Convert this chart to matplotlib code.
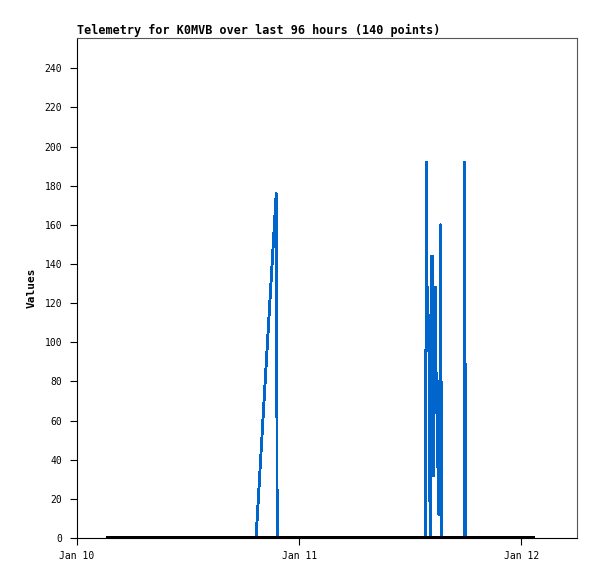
import matplotlib
matplotlib.use("Agg")
import matplotlib.pyplot as plt
import matplotlib.dates as mdates
import pandas as pd

# Blue telemetry channel (timestamps, values)
blue_times = [
    "2024-01-10 03:18", "2024-01-10 19:20", "2024-01-10 21:31", "2024-01-10 21:35",
    "2024-01-10 21:37",
    "2024-01-11 13:36", "2024-01-11 13:37", "2024-01-11 13:42", "2024-01-11 13:45",
    "2024-01-11 13:48", "2024-01-11 13:52", "2024-01-11 13:55", "2024-01-11 14:03",
    "2024-01-11 14:08", "2024-01-11 14:12", "2024-01-11 14:16", "2024-01-11 14:25",
    "2024-01-11 14:27", "2024-01-11 14:30", "2024-01-11 14:34", "2024-01-11 14:39",
    "2024-01-11 14:43", "2024-01-11 14:47", "2024-01-11 14:51", "2024-01-11 14:54",
    "2024-01-11 14:58", "2024-01-11 15:02", "2024-01-11 15:05", "2024-01-11 15:08",
    "2024-01-11 15:13", "2024-01-11 15:17", "2024-01-11 15:20", "2024-01-11 15:23",
    "2024-01-11 17:50", "2024-01-11 17:51", "2024-01-11 17:55", "2024-01-11 17:56",
    "2024-01-12 01:14",
]
blue_values = [
    0, 0, 176, 88,
    0,
    0, 96, 96, 192,
    96, 128, 96, 96,
    0, 96, 144, 144,
    80, 32, 96, 96,
    128, 64, 84, 60,
    36, 80, 12, 48,
    80, 160, 48, 0,
    0, 192, 80, 0,
    0,
]

# Black telemetry channel (flat at zero)
black_times = ["2024-01-10 03:18", "2024-01-12 01:14"]
black_values = [0, 0]

y_ticks = list(range(0, 241, 20))
x_ticks = ["2024-01-10", "2024-01-11", "2024-01-12"]
x_range = ["2024-01-10 00:00", "2024-01-12 06:00"]

title = "Telemetry for K0MVB over last 96 hours (140 points)"

plt.rcParams["font.family"] = ["DejaVu Sans Mono"]

fig = plt.figure(figsize=(5.97, 5.79), dpi=100)
ax = fig.add_axes([77 / 597, 1 - 538 / 579, 500 / 597, 500 / 579])

bt = pd.to_datetime(blue_times)
kt = pd.to_datetime(black_times)
ax.plot(bt, blue_values, color="#0066cc", lw=1.35, antialiased=False, zorder=2)
ax.plot(kt, black_values, color="black", lw=1.6, antialiased=False, zorder=3)

ax.set_xlim(pd.to_datetime(x_range[0]), pd.to_datetime(x_range[1]))
ax.set_ylim(0, 255.5)
ax.set_yticks(y_ticks)
ax.set_xticks(pd.to_datetime(x_ticks))
ax.xaxis.set_major_formatter(mdates.DateFormatter("%b %d"))

ax.tick_params(axis="both", direction="out", length=5, width=0.8,
               labelsize=7, colors="black")
ax.tick_params(axis="y", pad=5.5)
ax.tick_params(axis="x", pad=4.5)

for side in ["top", "right"]:
    ax.spines[side].set_color("#555555")
    ax.spines[side].set_linewidth(0.8)
for side in ["left", "bottom"]:
    ax.spines[side].set_color("black")
    ax.spines[side].set_linewidth(0.8)

ax.set_ylabel("Values", fontsize=8, fontweight="bold", labelpad=6)
ax.set_title(title, loc="left", fontsize=8.45, fontweight="bold", pad=3)

fig.savefig("out.png", dpi=100)
